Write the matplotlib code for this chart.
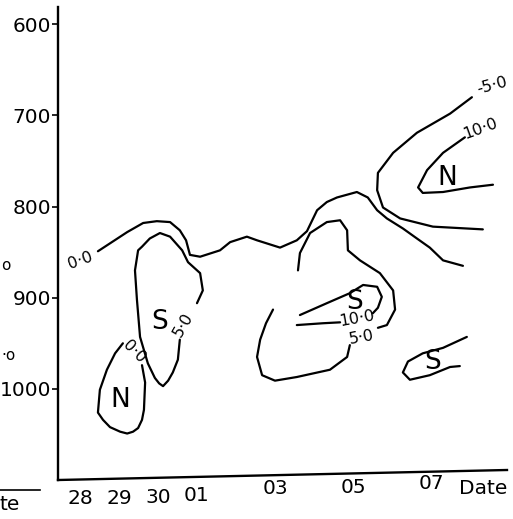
import matplotlib
matplotlib.use("Agg")
import matplotlib.pyplot as plt
import matplotlib.transforms as mtransforms
from matplotlib.lines import Line2D

# dates on the x axis (day index counted from the 28th)
date_pos = [0, 1, 2, 3, 5, 7, 9]
date_labels = ["28", "29", "30", "01", "03", "05", "07"]
# pressure levels (hPa) on the y axis
p_ticks = [600, 700, 800, 900, 1000]

# contour lines: (day index, hPa)
c00_outer_d = [0.46, 1.21, 1.62, 1.97, 2.31, 2.56, 2.72, 2.82, 3.08, 3.59, 3.85, 4.28, 4.54,
               5.13, 5.56, 5.82, 6.08, 6.33, 6.59, 7.10, 7.38, 7.62, 7.87, 8.28, 8.64, 8.97,
               9.31, 9.82]
c00_outer_p = [849, 828, 818, 816, 817, 826, 837, 853, 855, 848, 839, 833, 837,
               845, 837, 827, 804, 795, 790, 784, 790, 804, 813, 824, 835, 845,
               859, 865]

cm5_d = [10.05, 9.49, 8.64, 8.03, 7.64, 7.62, 7.77, 8.21, 9.05, 10.33]
cm5_p = [680, 698, 719, 741, 763, 782, 801, 813, 822, 825]

c10_top_d = [9.87, 9.31, 8.90, 8.67, 8.79, 9.31, 10.0, 10.59]
c10_top_p = [724, 741, 760, 779, 785, 784, 779, 776]

c5_left_d = [2.56, 2.51, 2.38, 2.26, 2.13, 2.03, 1.92, 1.74, 1.54, 1.46, 1.41, 1.49, 1.59,
             1.79, 2.05, 2.31, 2.62, 2.77, 3.08, 3.15, 3.00]
c5_left_p = [946, 968, 982, 991, 997, 994, 988, 972, 943, 902, 870, 848, 844,
             835, 829, 833, 848, 861, 873, 892, 906]

c00_n_d = [1.10, 0.90, 0.69, 0.51, 0.46, 0.59, 0.77, 1.03, 1.21, 1.36, 1.49, 1.59, 1.64,
           1.67, 1.59]
c00_n_p = [950, 961, 979, 1001, 1026, 1034, 1042, 1047, 1049, 1047, 1043, 1034, 1023,
           993, 974]

c5_mid_a_d = [5.59, 5.64, 5.90, 6.33, 6.67, 6.85, 6.87, 7.18, 7.69, 8.03, 8.08, 7.87, 7.64]
c5_mid_a_p = [870, 851, 829, 817, 815, 826, 848, 859, 873, 892, 913, 930, 933]
c5_mid_b_d = [6.92, 6.85, 6.41, 5.56, 5.00, 4.67, 4.54, 4.62, 4.77, 4.95]
c5_mid_b_p = [952, 965, 979, 987, 991, 985, 965, 946, 928, 913]

c10_mid_a_d = [5.64, 6.33, 6.92, 7.26, 7.62, 7.74, 7.64, 7.51]
c10_mid_a_p = [919, 906, 895, 886, 888, 899, 911, 917]
c10_mid_b_d = [6.67, 6.23, 5.56]
c10_mid_b_p = [927, 928, 930]

cs07_d = [9.92, 9.31, 8.79, 8.41, 8.28, 8.46, 8.97, 9.49, 9.74]
cs07_p = [943, 955, 961, 970, 982, 990, 985, 976, 975]

lines = [
    (c00_outer_d, c00_outer_p), (cm5_d, cm5_p), (c10_top_d, c10_top_p),
    (c5_left_d, c5_left_p), (c00_n_d, c00_n_p),
    (c5_mid_a_d, c5_mid_a_p), (c5_mid_b_d, c5_mid_b_p),
    (c10_mid_a_d, c10_mid_a_p), (c10_mid_b_d, c10_mid_b_p),
    (cs07_d, cs07_p),
]

# contour values written on the lines
value_labels = [
    ("0\u00b70", 0.0, 859, 20),
    ("-5\u00b70", 10.56, 667, 15),
    ("10\u00b70", 10.26, 714, 20),
    ("5\u00b70", 2.64, 930, 60),
    ("0\u00b70", 1.38, 959, -45),
    ("5\u00b70", 7.23, 943, 10),
    ("10\u00b70", 7.10, 923, 10),
]
# N / S centres
centre_labels = [
    ("N", 9.41, 769), ("S", 2.05, 927), ("N", 1.03, 1012),
    ("S", 7.05, 905), ("S", 9.05, 970),
]

fig = plt.figure(figsize=(5.13, 5.19), dpi=100)
ax = fig.add_axes([58 / 513, 1 - 480 / 519, 449 / 513, 473 / 519])

for d, p in lines:
    ax.plot(d, p, color="black", lw=1.6, solid_capstyle="round", solid_joinstyle="round")

for txt, d, p, rot in value_labels:
    ax.text(d, p, txt, fontsize=11.5, rotation=rot, ha="center", va="center",
            rotation_mode="anchor")

for txt, d, p in centre_labels:
    ax.text(d, p, txt, fontsize=19, ha="center", va="center")

ax.set_xlim(-0.564, 10.95)
ax.set_ylim(1100, 581)

ax.set_yticks(p_ticks)
ax.set_yticklabels([str(v) for v in p_ticks], fontsize=14.5)
ax.tick_params(axis="y", direction="out", length=4, width=1.2, pad=1)

ax.set_xticks(date_pos)
ax.set_xticklabels(date_labels, fontsize=14.5)
ax.tick_params(axis="x", length=0, pad=6.5)
# the hand-drawn axis is a little tilted, the labels follow it
date_shift = [0, 0, 1, 3, 10, 11, 15]
for lab, s in zip(ax.get_xticklabels(), date_shift):
    off = mtransforms.ScaledTranslation(0, s / 100, fig.dpi_scale_trans)
    lab.set_transform(lab.get_transform() + off)

for side in ["top", "right", "bottom"]:
    ax.spines[side].set_visible(False)
ax.spines["left"].set_linewidth(1.7)
ax.plot([0, 1], [0, 10 / 473], transform=ax.transAxes, color="black", lw=1.7,
        clip_on=False)

fig.text(483 / 513, 1 - 488 / 519, "Date", fontsize=14.5, ha="center", va="center")

# bits of the neighbouring panel cut off at the left edge
fig.text(0.002, 1 - 266 / 519, "o", fontsize=11, ha="left", va="center")
fig.text(0.002, 1 - 356 / 519, "\u00b7o", fontsize=11, ha="left", va="center")
fig.text(0.0, 1 - 505 / 519, "te", fontsize=14.5, ha="left", va="center")
fig.add_artist(Line2D([0, 40 / 513], [1 - 490 / 519, 1 - 490 / 519], color="black", lw=1.2))

fig.savefig("out.png", dpi=100)
